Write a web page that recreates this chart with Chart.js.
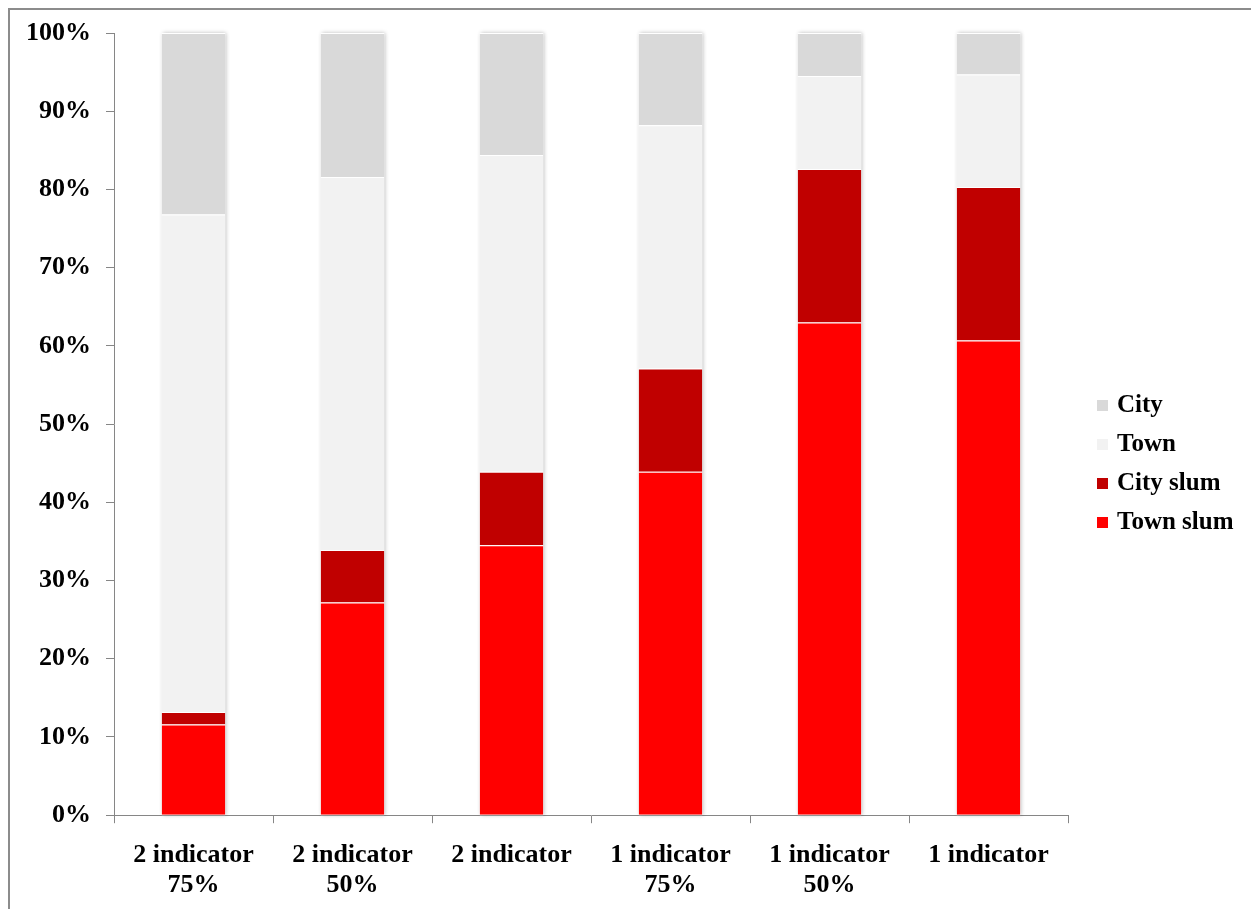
<!DOCTYPE html>
<html>
<head>
<meta charset="utf-8">
<script src="https://cdn.jsdelivr.net/npm/chart.js@4/dist/chart.umd.min.js"></script>
<style>
  html, body { margin: 0; padding: 0; background: #fff; overflow: hidden; width: 1251px; height: 909px; }
  #frame { position: absolute; left: 8px; top: 8px; width: 1400px; height: 1100px; border-top: 2px solid #8c8c8c; border-left: 2px solid #8c8c8c; box-sizing: border-box; }
  #wrap { position: absolute; left: 0; top: 0; width: 1251px; height: 909px; }
  #legend { position: absolute; left: 1097px; top: 388px; font-family: 'Liberation Serif', 'Times New Roman', serif; font-weight: bold; font-size: 25px; color: #000; }
  #legend .item { height: 39px; line-height: 32px; white-space: nowrap; }
  #legend .box { display: inline-block; width: 11px; height: 11px; margin-right: 9px; vertical-align: 1px; }
</style>
</head>
<body>
<div id="frame"></div>
<div id="wrap"><canvas id="c" width="1251" height="909"></canvas></div>
<div id="legend"></div>
<script>
const categories = [['2 indicator', '75%'], ['2 indicator', '50%'], ['2 indicator'], ['1 indicator', '75%'], ['1 indicator', '50%'], ['1 indicator']];
const townSlum = [11.6, 27.2, 34.5, 43.9, 63.0, 60.7];
const citySlum = [1.6, 6.7, 9.4, 13.2, 19.6, 19.6];
const town = [63.6, 47.7, 40.5, 31.1, 11.9, 14.4];
const city = [23.2, 18.4, 15.6, 11.8, 5.5, 5.3];
const seriesNames = ['Town slum', 'City slum', 'Town', 'City'];
const seriesColors = ['#FF0000', '#C00000', '#F2F2F2', '#D9D9D9'];
const yTicks = [0, 10, 20, 30, 40, 50, 60, 70, 80, 90, 100];

const fontFamily = "'Liberation Serif', 'Times New Roman', serif";
const series = [townSlum, citySlum, town, city];

const shadowPlugin = {
  id: 'barShadow',
  beforeDatasetsDraw(chart) {
    const ctx = chart.ctx;
    const metaBottom = chart.getDatasetMeta(0);
    const y = chart.scales.y;
    ctx.save();
    metaBottom.data.forEach((el, i) => {
      let total = 0;
      series.forEach(s => total += s[i]);
      const top = y.getPixelForValue(total);
      const bottom = y.getPixelForValue(0);
      ctx.shadowColor = 'rgba(0,0,0,0.28)';
      ctx.shadowBlur = 4;
      ctx.shadowOffsetX = 1;
      ctx.shadowOffsetY = 0;
      ctx.fillStyle = '#ffffff';
      ctx.fillRect(el.x - el.width / 2, top, el.width, bottom - top);
    });
    ctx.restore();
  }
};

new Chart(document.getElementById('c'), {
  type: 'bar',
  data: {
    labels: categories,
    datasets: series.map((d, k) => ({
      label: seriesNames[k],
      data: d,
      backgroundColor: seriesColors[k],
      borderColor: '#ffffff',
      borderWidth: { top: 1, left: 0, right: 0, bottom: 0 },
      borderSkipped: false,
      categoryPercentage: 1.0,
      barPercentage: 0.4
    }))
  },
  options: {
    responsive: false,
    devicePixelRatio: 1,
    animation: false,
    layout: { padding: { left: 11, right: 183, top: 33, bottom: -8 } },
    plugins: {
      legend: { display: false },
      tooltip: { enabled: false }
    },
    scales: {
      x: {
        stacked: true,
        grid: { display: true, drawOnChartArea: false, offset: true, color: '#868686', tickLength: 8, lineWidth: 1 },
        border: { display: true, color: '#868686', width: 1 },
        ticks: { color: '#000', padding: 17, font: { family: fontFamily, weight: 'bold', size: 26, lineHeight: 1.15 }, maxRotation: 0, autoSkip: false }
      },
      y: {
        stacked: true,
        min: 0,
        max: 100,
        afterBuildTicks(scale) { scale.ticks = yTicks.map(v => ({ value: v })); },
        grid: { display: true, drawOnChartArea: false, color: '#868686', tickLength: 8, lineWidth: 1 },
        border: { display: true, color: '#868686', width: 1 },
        ticks: { color: '#000', padding: 15, font: { family: fontFamily, weight: 'bold', size: 26 }, callback: v => v + '%' }
      }
    }
  },
  plugins: [shadowPlugin]
});

const legendEl = document.getElementById('legend');
for (let k = seriesNames.length - 1; k >= 0; k--) {
  const item = document.createElement('div');
  item.className = 'item';
  const box = document.createElement('span');
  box.className = 'box';
  box.style.background = seriesColors[k];
  item.appendChild(box);
  item.appendChild(document.createTextNode(seriesNames[k]));
  legendEl.appendChild(item);
}
</script>
</body>
</html>
